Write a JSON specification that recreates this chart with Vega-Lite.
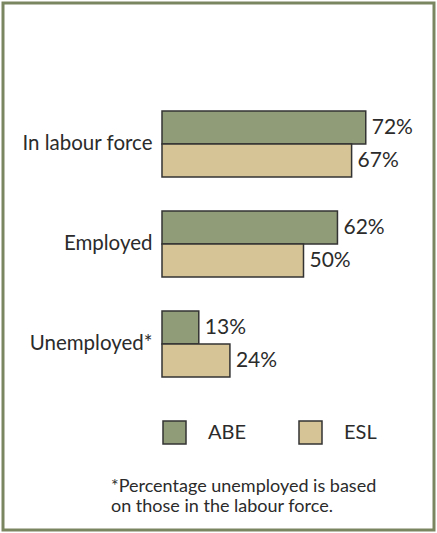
{
  "$schema": "https://vega.github.io/schema/vega-lite/v6.json",
  "autosize": {"type": "none"},
  "padding": {"left": 3, "top": 3, "right": 3, "bottom": 3},
  "width": 431,
  "height": 527,
  "background": "white",
  "config": {
    "view": {"stroke": "#7a8660", "strokeWidth": 3},
    "font": "Lato",
    "text": {"font": "Lato", "color": "#2b2b2b"}
  },
  "title": {
    "text": ["*Percentage unemployed is based", "on those in the labour force."],
    "orient": "bottom",
    "frame": "group",
    "anchor": "start",
    "align": "left",
    "baseline": "top",
    "offset": -52,
    "dx": 108,
    "font": "Lato",
    "fontSize": 18,
    "fontWeight": "normal",
    "lineHeight": 20,
    "color": "#2b2b2b"
  },
  "data": {
    "values": [
      {"category": "In labour force", "group": "ABE", "value": 0.72},
      {"category": "In labour force", "group": "ESL", "value": 0.67},
      {"category": "Employed", "group": "ABE", "value": 0.62},
      {"category": "Employed", "group": "ESL", "value": 0.50},
      {"category": "Unemployed*", "group": "ABE", "value": 0.13},
      {"category": "Unemployed*", "group": "ESL", "value": 0.24}
    ]
  },
  "encoding": {
    "y": {
      "field": "category",
      "type": "nominal",
      "sort": ["In labour force", "Employed", "Unemployed*"],
      "scale": {"range": [91, 391], "paddingInner": 0.34, "paddingOuter": 0.17},
      "axis": {
        "title": null,
        "domain": false,
        "ticks": false,
        "offset": -149,
        "labelPadding": 0,
        "labelFont": "Lato",
        "labelFontSize": 20.5,
        "labelColor": "#2b2b2b",
        "labelAlign": "right"
      }
    },
    "yOffset": {
      "field": "group",
      "type": "nominal",
      "sort": ["ABE", "ESL"],
      "scale": {"paddingInner": 0, "paddingOuter": 0}
    },
    "x": {
      "field": "value",
      "type": "quantitative",
      "scale": {"domain": [0, 1], "range": [159, 442]},
      "axis": null
    }
  },
  "layer": [
    {
      "mark": {"type": "bar", "stroke": "#333333", "strokeWidth": 1.5},
      "encoding": {
        "color": {
          "field": "group",
          "type": "nominal",
          "sort": ["ABE", "ESL"],
          "scale": {"domain": ["ABE", "ESL"], "range": ["#909c78", "#d6c497"]},
          "legend": {
            "title": null,
            "orient": "none",
            "legendX": 159,
            "legendY": 417,
            "direction": "horizontal",
            "padding": 0,
            "symbolType": "square",
            "symbolSize": 529,
            "symbolStrokeColor": "#333333",
            "symbolStrokeWidth": 1.5,
            "symbolOpacity": 1,
            "labelFont": "Lato",
            "labelFontSize": 20,
            "labelColor": "#2b2b2b",
            "labelOffset": 21,
            "columnPadding": 49
          }
        }
      }
    },
    {
      "mark": {"type": "text", "align": "left", "baseline": "middle", "dx": 6, "fontSize": 21},
      "encoding": {
        "text": {"field": "value", "type": "quantitative", "format": ".0%"},
        "detail": {"field": "group"}
      }
    }
  ]
}
